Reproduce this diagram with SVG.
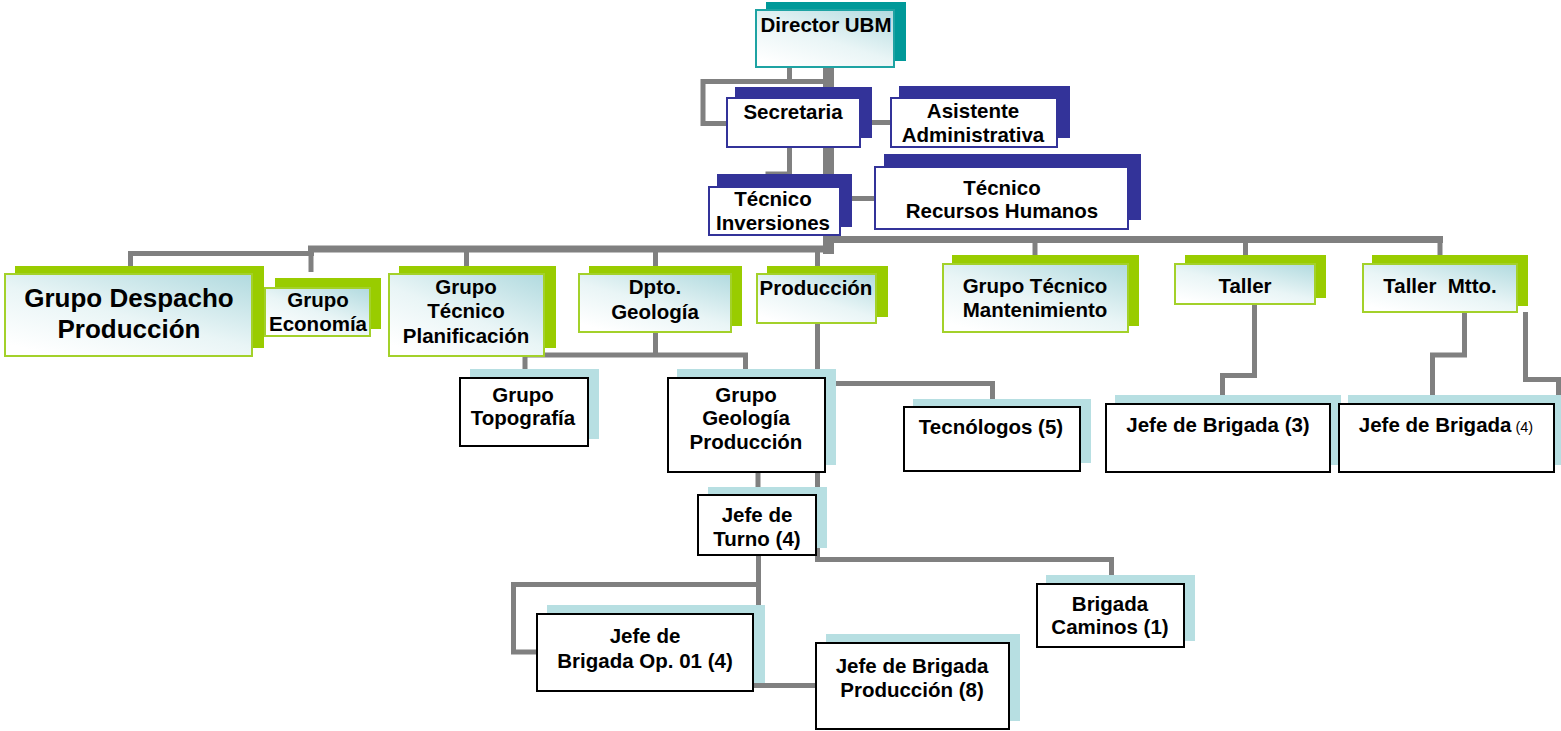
<svg xmlns="http://www.w3.org/2000/svg" width="1561" height="731" viewBox="0 0 1561 731">
  <defs>
    <linearGradient id="glow" x1="0.95" y1="0" x2="0.2" y2="1">
      <stop offset="0" stop-color="#b3dbe0"/>
      <stop offset="0.55" stop-color="#e9f5f6"/>
      <stop offset="1" stop-color="#ffffff"/>
    </linearGradient>
  </defs>
  <style>
    .conn { fill: none; stroke: #808080; stroke-width: 5; stroke-linejoin: miter; stroke-linecap: butt; }
    .bus { stroke-width: 7; }
    .trunk { stroke-width: 11; }
    .sh-navy { fill: #333399; }
    .fr-navy { fill: #ffffff; stroke: #333399; stroke-width: 2; }
    .sh-teal { fill: #009999; }
    .fr-teal { fill: url(#glow); stroke: #1ea3a3; stroke-width: 2; }
    .sh-green { fill: #99cc00; }
    .fr-green { fill: url(#glow); stroke: #a3d12a; stroke-width: 2; }
    .sh-aqua { fill: #b7dfe2; }
    .fr-plain { fill: #ffffff; stroke: #000000; stroke-width: 2; }
    text { font-family: "Liberation Sans", Arial, sans-serif; font-weight: bold; font-size: 20.5px; fill: #000000; text-anchor: middle; }
    .big { font-size: 26px; }
    .small { font-weight: normal; font-size: 14.5px; }
  </style>

  <!-- connectors -->
  <g id="connectors">
    <path class="conn trunk" d="M828.5 68 V254"/>
    <path class="conn" d="M789.5 68 V82"/>
    <path class="conn" d="M830 81.5 H703 V123.5 H727"/>
    <path class="conn" d="M861 122.5 H891"/>
    <path class="conn" d="M789.5 148 V174 H768 V186"/>
    <path class="conn" d="M834 198.5 H875"/>
    <!-- right bus -->
    <path class="conn bus" d="M823 239.5 H1443"/>
    <path class="conn" d="M1035 240 V256"/>
    <path class="conn" d="M1245.5 240 V256"/>
    <path class="conn" d="M1440 240 V256"/>
    <!-- left bus -->
    <path class="conn bus" d="M308 249 H834"/>
    <path class="conn" d="M128 253.5 H314"/>
    <path class="conn" d="M130.5 253 V267"/>
    <path class="conn" d="M311 249 V272"/>
    <path class="conn" d="M466.5 249 V267"/>
    <path class="conn" d="M655.5 249 V267"/>
    <path class="conn" d="M817.5 249 V267"/>
    <!-- geology branch -->
    <path class="conn" d="M525 370 V355 H745.5 V370"/>
    <path class="conn" d="M655.5 333 V355"/>
    <path class="conn" d="M817.5 324 V370"/>
    <path class="conn" d="M817.5 383.5 H992.5 V400"/>
    <path class="conn" d="M758 473 V495"/>
    <path class="conn" d="M817.5 473 V559.5 H1111.5 V576"/>
    <path class="conn" d="M758.5 556 V606"/>
    <path class="conn" d="M758.5 584.5 H513.5 V652 H537"/>
    <path class="conn" d="M754 685.5 H816"/>
    <!-- workshops -->
    <path class="conn" d="M1254.5 305 V375.5 H1222.5 V396"/>
    <path class="conn" d="M1464.5 312 V355 H1432.5 V401"/>
    <path class="conn" d="M1525.5 312 V379.5 H1558.5 V396"/>
  </g>

  <!-- top management -->
  <g id="director">
    <rect class="sh-teal" x="766" y="2" width="140" height="59"/>
    <rect class="fr-teal" x="756" y="10" width="138" height="57"/>
    <text x="826" y="32">Director UBM</text>
  </g>
  <g id="secretaria">
    <rect class="sh-navy" x="735" y="87" width="137" height="51"/>
    <rect class="fr-navy" x="727" y="98" width="133" height="49"/>
    <text x="793" y="119">Secretaria</text>
  </g>
  <g id="asistente">
    <rect class="sh-navy" x="899" y="86" width="171" height="52"/>
    <rect class="fr-navy" x="891" y="98" width="166" height="49"/>
    <text x="973" y="118">Asistente</text>
    <text x="973" y="141.5">Administrativa</text>
  </g>
  <g id="tecnico-inversiones">
    <rect class="sh-navy" x="717" y="174" width="135" height="53"/>
    <rect class="fr-navy" x="709" y="187" width="131" height="48"/>
    <text x="773" y="206">Técnico</text>
    <text x="773" y="230">Inversiones</text>
  </g>
  <g id="tecnico-rrhh">
    <rect class="sh-navy" x="884" y="154" width="257" height="66"/>
    <rect class="fr-navy" x="875" y="167" width="253" height="62"/>
    <text x="1002" y="195">Técnico</text>
    <text x="1002" y="218">Recursos Humanos</text>
  </g>

  <!-- departments -->
  <g id="grupo-despacho">
    <rect class="sh-green" x="15" y="266" width="249" height="82"/>
    <rect class="fr-green" x="5" y="274" width="247" height="82"/>
    <text class="big" x="129" y="307">Grupo Despacho</text>
    <text class="big" x="129" y="338">Producción</text>
  </g>
  <g id="grupo-economia">
    <rect class="sh-green" x="275" y="278" width="106" height="51"/>
    <rect class="fr-green" x="265" y="288" width="105" height="48"/>
    <text x="318" y="307">Grupo</text>
    <text x="318" y="331">Economía</text>
  </g>
  <g id="grupo-planificacion">
    <rect class="sh-green" x="399" y="266" width="157" height="82"/>
    <rect class="fr-green" x="389" y="274" width="155" height="82"/>
    <text x="466" y="294">Grupo</text>
    <text x="466" y="318">Técnico</text>
    <text x="466" y="343">Planificación</text>
  </g>
  <g id="dpto-geologia">
    <rect class="sh-green" x="589" y="266" width="153" height="60"/>
    <rect class="fr-green" x="579" y="274" width="152" height="58"/>
    <text x="655" y="294">Dpto.</text>
    <text x="655" y="319">Geología</text>
  </g>
  <g id="produccion">
    <rect class="sh-green" x="767" y="266" width="121" height="51"/>
    <rect class="fr-green" x="757" y="274" width="119" height="49"/>
    <text x="816" y="295">Producción</text>
  </g>
  <g id="grupo-mantenimiento">
    <rect class="sh-green" x="952" y="255" width="187" height="71"/>
    <rect class="fr-green" x="943" y="264" width="185" height="68"/>
    <text x="1035" y="293">Grupo Técnico</text>
    <text x="1035" y="317">Mantenimiento</text>
  </g>
  <g id="taller">
    <rect class="sh-green" x="1185" y="255" width="141" height="43"/>
    <rect class="fr-green" x="1175" y="264" width="140" height="40"/>
    <text x="1245" y="293">Taller</text>
  </g>
  <g id="taller-mtto">
    <rect class="sh-green" x="1372" y="255" width="156" height="51"/>
    <rect class="fr-green" x="1363" y="264" width="154" height="48"/>
    <text x="1440" y="293" xml:space="preserve">Taller  Mtto.</text>
  </g>

  <!-- sections -->
  <g id="grupo-topografia">
    <rect class="sh-aqua" x="470" y="369" width="129" height="70"/>
    <rect class="fr-plain" x="460" y="378" width="128" height="68"/>
    <text x="523" y="402">Grupo</text>
    <text x="523" y="425">Topografía</text>
  </g>
  <g id="grupo-geologia-produccion">
    <rect class="sh-aqua" x="677" y="369" width="159" height="96"/>
    <rect class="fr-plain" x="668" y="378" width="157" height="94"/>
    <text x="746" y="402">Grupo</text>
    <text x="746" y="425">Geología</text>
    <text x="746" y="449">Producción</text>
  </g>
  <g id="tecnologos">
    <rect class="sh-aqua" x="913" y="399" width="178" height="64"/>
    <rect class="fr-plain" x="904" y="407" width="176" height="64"/>
    <text x="991" y="434">Tecnólogos (5)</text>
  </g>
  <g id="jefe-brigada-3">
    <rect class="sh-aqua" x="1115" y="395" width="226" height="70"/>
    <rect class="fr-plain" x="1106" y="404" width="224" height="68"/>
    <text x="1218" y="432">Jefe de Brigada (3)</text>
  </g>
  <g id="jefe-brigada-4">
    <rect class="sh-aqua" x="1348" y="395" width="213" height="70"/>
    <rect class="fr-plain" x="1339" y="404" width="215" height="68"/>
    <text x="1446" y="432">Jefe de Brigada<tspan class="small"> (4)</tspan></text>
  </g>
  <g id="jefe-turno">
    <rect class="sh-aqua" x="708" y="487" width="119" height="61"/>
    <rect class="fr-plain" x="698" y="495" width="118" height="60"/>
    <text x="757" y="522">Jefe de</text>
    <text x="757" y="546">Turno (4)</text>
  </g>
  <g id="jefe-brigada-op01">
    <rect class="sh-aqua" x="547" y="605" width="218" height="78"/>
    <rect class="fr-plain" x="537" y="614" width="216" height="77"/>
    <text x="645" y="643">Jefe de</text>
    <text x="645" y="668">Brigada Op. 01 (4)</text>
  </g>
  <g id="jefe-brigada-produccion">
    <rect class="sh-aqua" x="826" y="634" width="194" height="87"/>
    <rect class="fr-plain" x="816" y="643" width="193" height="86"/>
    <text x="912" y="673">Jefe de Brigada</text>
    <text x="912" y="697">Producción (8)</text>
  </g>
  <g id="brigada-caminos">
    <rect class="sh-aqua" x="1046" y="575" width="149" height="66"/>
    <rect class="fr-plain" x="1037" y="584" width="147" height="63"/>
    <text x="1110" y="611">Brigada</text>
    <text x="1110" y="634">Caminos (1)</text>
  </g>
</svg>
